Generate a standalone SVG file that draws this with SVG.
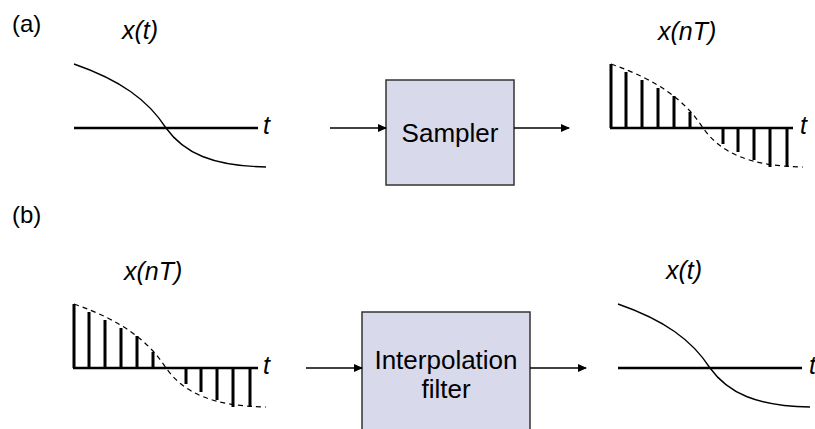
<svg xmlns="http://www.w3.org/2000/svg" xmlns:xlink="http://www.w3.org/1999/xlink" width="815" height="429" viewBox="0 0 815 429">
<style>
text{font-family:"Liberation Sans",Arial,sans-serif;fill:#000}
.lbl{font-size:24px}
.it{font-size:25px;font-style:italic}
.box{fill:#d9d9ec;stroke:#333;stroke-width:1.5}
.btxt{font-size:26px;text-anchor:middle}
.axis{stroke:#000;stroke-width:2.6;fill:none}
.stem{stroke:#000;stroke-width:3;fill:none}
.curve{stroke:#000;stroke-width:1.4;fill:none}
.dash{stroke:#000;stroke-width:1.2;fill:none;stroke-dasharray:5 4}
.conn{stroke:#000;stroke-width:1.4;fill:none;marker-end:url(#ah)}
</style>
<defs>
<marker id="ah" markerWidth="9" markerHeight="8" refX="8" refY="4" orient="auto" markerUnits="userSpaceOnUse">
<path d="M0,0 L9,4 L0,8 Z" fill="#000"/>
</marker>
<path id="crv" d="M74,64 C120,80 148,100 166,128 C184,153 212,166 266,167"/>
<path id="stems" d="M611,128V64 M626,128V72 M642,128V80 M658,128V88 M674,128V96 M690,128V112 M723,128V144 M738,128V152 M754,128V160 M770,128V167 M787,128V167"/>
</defs>

<g id="label-a"><text class="lbl" x="12" y="32">(a)</text></g>
<g id="label-b"><text class="lbl" x="12" y="223">(b)</text></g>

<g id="plot-a-in">
<text class="it" x="122" y="39">x(t)</text>
<line class="axis" x1="74" y1="128" x2="258" y2="128"/>
<use href="#crv" xlink:href="#crv" class="curve"/>
<text class="it" x="263" y="134">t</text>
</g>

<g id="sampler">
<rect class="box" x="386" y="80" width="128" height="105"/>
<text class="btxt" x="450" y="142">Sampler</text>
</g>

<g id="plot-a-out">
<text class="it" x="658" y="40">x(nT)</text>
<use href="#crv" xlink:href="#crv" class="dash" transform="translate(537,0)"/>
<use href="#stems" xlink:href="#stems" class="stem"/>
<line class="axis" x1="610" y1="128" x2="793" y2="128"/>
<text class="it" x="800" y="134">t</text>
</g>

<g id="plot-b-in">
<text class="it" x="124" y="280">x(nT)</text>
<use href="#crv" xlink:href="#crv" class="dash" transform="translate(0,240)"/>
<use href="#stems" xlink:href="#stems" class="stem" transform="translate(-537,240)"/>
<line class="axis" x1="73" y1="368" x2="258" y2="368"/>
<text class="it" x="263" y="374">t</text>
</g>

<g id="interp-filter">
<rect class="box" x="362" y="312" width="168" height="130"/>
<text class="btxt" x="446" y="369">Interpolation</text>
<text class="btxt" x="446" y="398">filter</text>
</g>

<g id="plot-b-out">
<text class="it" x="666" y="279">x(t)</text>
<line class="axis" x1="618" y1="368" x2="802" y2="368"/>
<use href="#crv" xlink:href="#crv" class="curve" transform="translate(544,240)"/>
<text class="it" x="809" y="374">t</text>
</g>

<g id="connectors">
<line class="conn" x1="330" y1="128" x2="386" y2="128"/>
<line class="conn" x1="514" y1="128" x2="569" y2="128"/>
<line class="conn" x1="306" y1="368" x2="362" y2="368"/>
<line class="conn" x1="530" y1="368" x2="586" y2="368"/>
</g>
</svg>
